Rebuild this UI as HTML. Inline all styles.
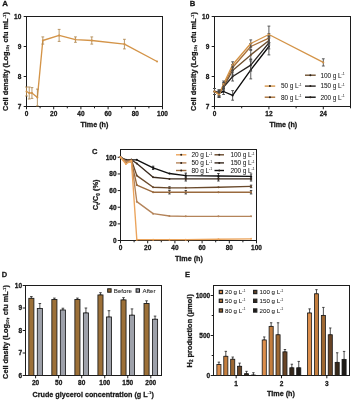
<!DOCTYPE html>
<html><head><meta charset="utf-8"><style>
html,body{margin:0;padding:0;background:#fff;width:352px;height:400px;overflow:hidden}
svg{display:block;font-family:"Liberation Sans", sans-serif;filter:blur(0.22px)}
text{stroke:#111;stroke-width:0.26px}
text[font-weight=normal]{stroke:#000;stroke-width:0.05px}
</style></head><body>
<svg width="352" height="400" viewBox="0 0 352 400">
<rect width="352" height="400" fill="#fff"/>
<text x="5.00" y="5.90" font-size="7.9" text-anchor="middle" font-weight="bold" fill="#1a1a1a" >A</text>
<rect x="26.50" y="16.50" width="136.00" height="90.00" fill="none" stroke="#1c1c1c" stroke-width="1.0"/>
<line x1="23.70" y1="106.50" x2="26.50" y2="106.50" stroke="#1c1c1c" stroke-width="1.0" />
<text x="21.30" y="108.84" font-size="6.5" text-anchor="end" font-weight="bold" fill="#1a1a1a" >7</text>
<line x1="23.70" y1="76.50" x2="26.50" y2="76.50" stroke="#1c1c1c" stroke-width="1.0" />
<text x="21.30" y="78.84" font-size="6.5" text-anchor="end" font-weight="bold" fill="#1a1a1a" >8</text>
<line x1="23.70" y1="46.50" x2="26.50" y2="46.50" stroke="#1c1c1c" stroke-width="1.0" />
<text x="21.30" y="48.84" font-size="6.5" text-anchor="end" font-weight="bold" fill="#1a1a1a" >9</text>
<line x1="23.70" y1="16.50" x2="26.50" y2="16.50" stroke="#1c1c1c" stroke-width="1.0" />
<text x="21.30" y="18.84" font-size="6.5" text-anchor="end" font-weight="bold" fill="#1a1a1a" >10</text>
<line x1="26.50" y1="106.50" x2="26.50" y2="109.30" stroke="#1c1c1c" stroke-width="1.0" />
<text x="26.50" y="116.38" font-size="6.5" text-anchor="middle" font-weight="bold" fill="#1a1a1a" >0</text>
<line x1="53.70" y1="106.50" x2="53.70" y2="109.30" stroke="#1c1c1c" stroke-width="1.0" />
<text x="53.70" y="116.38" font-size="6.5" text-anchor="middle" font-weight="bold" fill="#1a1a1a" >20</text>
<line x1="80.90" y1="106.50" x2="80.90" y2="109.30" stroke="#1c1c1c" stroke-width="1.0" />
<text x="80.90" y="116.38" font-size="6.5" text-anchor="middle" font-weight="bold" fill="#1a1a1a" >40</text>
<line x1="108.10" y1="106.50" x2="108.10" y2="109.30" stroke="#1c1c1c" stroke-width="1.0" />
<text x="108.10" y="116.38" font-size="6.5" text-anchor="middle" font-weight="bold" fill="#1a1a1a" >60</text>
<line x1="135.30" y1="106.50" x2="135.30" y2="109.30" stroke="#1c1c1c" stroke-width="1.0" />
<text x="135.30" y="116.38" font-size="6.5" text-anchor="middle" font-weight="bold" fill="#1a1a1a" >80</text>
<line x1="162.50" y1="106.50" x2="162.50" y2="109.30" stroke="#1c1c1c" stroke-width="1.0" />
<text x="162.50" y="116.38" font-size="6.5" text-anchor="middle" font-weight="bold" fill="#1a1a1a" >100</text>
<line x1="40.10" y1="106.50" x2="40.10" y2="108.30" stroke="#1c1c1c" stroke-width="1.0" />
<line x1="67.30" y1="106.50" x2="67.30" y2="108.30" stroke="#1c1c1c" stroke-width="1.0" />
<line x1="94.50" y1="106.50" x2="94.50" y2="108.30" stroke="#1c1c1c" stroke-width="1.0" />
<line x1="121.70" y1="106.50" x2="121.70" y2="108.30" stroke="#1c1c1c" stroke-width="1.0" />
<line x1="148.90" y1="106.50" x2="148.90" y2="108.30" stroke="#1c1c1c" stroke-width="1.0" />
<text x="94.50" y="127.30" font-size="7.2" text-anchor="middle" font-weight="bold" fill="#1a1a1a" >Time (h)</text>
<text transform="translate(7.9,61.5) rotate(-90)" font-size="7.38" font-weight="bold" text-anchor="middle" fill="#1a1a1a">Cell density (Log<tspan font-size="4.3" dy="1.3" style="stroke-width:0.15px">10</tspan><tspan dy="-1.3">, cfu mL</tspan><tspan font-size="4.3" dy="-2.2" style="stroke-width:0.15px">-1</tspan><tspan dy="2.2">)</tspan></text>
<polyline points="26.50,91.50 29.22,93.00 31.94,93.00 37.38,97.50 42.82,40.50 59.14,35.40 75.46,39.60 91.78,40.50 124.42,44.10 157.06,61.50" fill="none" stroke="#d49448" stroke-width="1.35" stroke-linejoin="round"/>
<line x1="26.50" y1="87.00" x2="26.50" y2="96.00" stroke="#b08850" stroke-width="0.85" />
<line x1="25.10" y1="87.00" x2="27.90" y2="87.00" stroke="#b08850" stroke-width="0.85" />
<line x1="25.10" y1="96.00" x2="27.90" y2="96.00" stroke="#b08850" stroke-width="0.85" />
<circle cx="26.50" cy="91.50" r="1.0" fill="#d49448"/>
<line x1="29.22" y1="87.00" x2="29.22" y2="99.00" stroke="#b08850" stroke-width="0.85" />
<line x1="27.82" y1="87.00" x2="30.62" y2="87.00" stroke="#b08850" stroke-width="0.85" />
<line x1="27.82" y1="99.00" x2="30.62" y2="99.00" stroke="#b08850" stroke-width="0.85" />
<circle cx="29.22" cy="93.00" r="1.0" fill="#d49448"/>
<line x1="31.94" y1="87.60" x2="31.94" y2="98.40" stroke="#b08850" stroke-width="0.85" />
<line x1="30.54" y1="87.60" x2="33.34" y2="87.60" stroke="#b08850" stroke-width="0.85" />
<line x1="30.54" y1="98.40" x2="33.34" y2="98.40" stroke="#b08850" stroke-width="0.85" />
<circle cx="31.94" cy="93.00" r="1.0" fill="#d49448"/>
<line x1="37.38" y1="89.10" x2="37.38" y2="105.90" stroke="#b08850" stroke-width="0.85" />
<line x1="35.98" y1="89.10" x2="38.78" y2="89.10" stroke="#b08850" stroke-width="0.85" />
<line x1="35.98" y1="105.90" x2="38.78" y2="105.90" stroke="#b08850" stroke-width="0.85" />
<circle cx="37.38" cy="97.50" r="1.0" fill="#d49448"/>
<line x1="42.82" y1="36.90" x2="42.82" y2="44.10" stroke="#b08850" stroke-width="0.85" />
<line x1="41.42" y1="36.90" x2="44.22" y2="36.90" stroke="#b08850" stroke-width="0.85" />
<line x1="41.42" y1="44.10" x2="44.22" y2="44.10" stroke="#b08850" stroke-width="0.85" />
<circle cx="42.82" cy="40.50" r="1.0" fill="#d49448"/>
<line x1="59.14" y1="29.40" x2="59.14" y2="41.40" stroke="#b08850" stroke-width="0.85" />
<line x1="57.74" y1="29.40" x2="60.54" y2="29.40" stroke="#b08850" stroke-width="0.85" />
<line x1="57.74" y1="41.40" x2="60.54" y2="41.40" stroke="#b08850" stroke-width="0.85" />
<circle cx="59.14" cy="35.40" r="1.0" fill="#d49448"/>
<line x1="75.46" y1="36.90" x2="75.46" y2="42.30" stroke="#b08850" stroke-width="0.85" />
<line x1="74.06" y1="36.90" x2="76.86" y2="36.90" stroke="#b08850" stroke-width="0.85" />
<line x1="74.06" y1="42.30" x2="76.86" y2="42.30" stroke="#b08850" stroke-width="0.85" />
<circle cx="75.46" cy="39.60" r="1.0" fill="#d49448"/>
<line x1="91.78" y1="36.90" x2="91.78" y2="44.10" stroke="#b08850" stroke-width="0.85" />
<line x1="90.38" y1="36.90" x2="93.18" y2="36.90" stroke="#b08850" stroke-width="0.85" />
<line x1="90.38" y1="44.10" x2="93.18" y2="44.10" stroke="#b08850" stroke-width="0.85" />
<circle cx="91.78" cy="40.50" r="1.0" fill="#d49448"/>
<line x1="124.42" y1="39.30" x2="124.42" y2="48.90" stroke="#b08850" stroke-width="0.85" />
<line x1="123.02" y1="39.30" x2="125.82" y2="39.30" stroke="#b08850" stroke-width="0.85" />
<line x1="123.02" y1="48.90" x2="125.82" y2="48.90" stroke="#b08850" stroke-width="0.85" />
<circle cx="124.42" cy="44.10" r="1.0" fill="#d49448"/>
<circle cx="157.06" cy="61.50" r="1.0" fill="#d49448"/>
<text x="192.50" y="5.60" font-size="7.7" text-anchor="middle" font-weight="bold" fill="#1a1a1a" >B</text>
<rect x="214.50" y="16.50" width="136.00" height="90.00" fill="none" stroke="#1c1c1c" stroke-width="1.0"/>
<line x1="211.70" y1="106.50" x2="214.50" y2="106.50" stroke="#1c1c1c" stroke-width="1.0" />
<text x="209.30" y="108.84" font-size="6.5" text-anchor="end" font-weight="bold" fill="#1a1a1a" >7</text>
<line x1="211.70" y1="76.50" x2="214.50" y2="76.50" stroke="#1c1c1c" stroke-width="1.0" />
<text x="209.30" y="78.84" font-size="6.5" text-anchor="end" font-weight="bold" fill="#1a1a1a" >8</text>
<line x1="211.70" y1="46.50" x2="214.50" y2="46.50" stroke="#1c1c1c" stroke-width="1.0" />
<text x="209.30" y="48.84" font-size="6.5" text-anchor="end" font-weight="bold" fill="#1a1a1a" >9</text>
<line x1="211.70" y1="16.50" x2="214.50" y2="16.50" stroke="#1c1c1c" stroke-width="1.0" />
<text x="209.30" y="18.84" font-size="6.5" text-anchor="end" font-weight="bold" fill="#1a1a1a" >10</text>
<line x1="214.50" y1="106.50" x2="214.50" y2="109.30" stroke="#1c1c1c" stroke-width="1.0" />
<text x="214.50" y="116.38" font-size="6.5" text-anchor="middle" font-weight="bold" fill="#1a1a1a" >0</text>
<line x1="268.90" y1="106.50" x2="268.90" y2="109.30" stroke="#1c1c1c" stroke-width="1.0" />
<text x="268.90" y="116.38" font-size="6.5" text-anchor="middle" font-weight="bold" fill="#1a1a1a" >12</text>
<line x1="323.30" y1="106.50" x2="323.30" y2="109.30" stroke="#1c1c1c" stroke-width="1.0" />
<text x="323.30" y="116.38" font-size="6.5" text-anchor="middle" font-weight="bold" fill="#1a1a1a" >24</text>
<line x1="241.70" y1="106.50" x2="241.70" y2="108.30" stroke="#1c1c1c" stroke-width="1.0" />
<line x1="296.10" y1="106.50" x2="296.10" y2="108.30" stroke="#1c1c1c" stroke-width="1.0" />
<line x1="350.50" y1="106.50" x2="350.50" y2="108.30" stroke="#1c1c1c" stroke-width="1.0" />
<text x="283.30" y="127.30" font-size="7.2" text-anchor="middle" font-weight="bold" fill="#1a1a1a" >Time (h)</text>
<text transform="translate(195.9,61.5) rotate(-90)" font-size="7.38" font-weight="bold" text-anchor="middle" fill="#1a1a1a">Cell density (Log<tspan font-size="4.3" dy="1.3" style="stroke-width:0.15px">10</tspan><tspan dy="-1.3">, cfu mL</tspan><tspan font-size="4.3" dy="-2.2" style="stroke-width:0.15px">-1</tspan><tspan dy="2.2">)</tspan></text>
<polyline points="214.50,91.50 219.03,93.00 223.57,91.50 232.63,95.40 250.77,69.90 268.90,46.50" fill="none" stroke="#0c0c0c" stroke-width="1.35" stroke-linejoin="round"/>
<polyline points="214.50,91.50 219.03,93.00 223.57,87.00 232.63,76.50 250.77,65.10 268.90,42.90" fill="none" stroke="#262220" stroke-width="1.35" stroke-linejoin="round"/>
<polyline points="214.50,91.50 219.03,93.00 223.57,87.00 232.63,70.50 250.77,54.90 268.90,40.50" fill="none" stroke="#6e5030" stroke-width="1.35" stroke-linejoin="round"/>
<polyline points="214.50,91.50 219.03,94.50 223.57,85.50 232.63,67.50 250.77,46.50 268.90,38.10" fill="none" stroke="#a87038" stroke-width="1.35" stroke-linejoin="round"/>
<polyline points="214.50,91.50 219.03,94.50 223.57,84.00 232.63,64.80 250.77,43.50 268.90,34.50 323.30,62.40" fill="none" stroke="#d49448" stroke-width="1.35" stroke-linejoin="round"/>
<line x1="214.50" y1="88.50" x2="214.50" y2="94.50" stroke="#4a4a4a" stroke-width="0.9" />
<line x1="213.10" y1="88.50" x2="215.90" y2="88.50" stroke="#4a4a4a" stroke-width="0.9" />
<line x1="213.10" y1="94.50" x2="215.90" y2="94.50" stroke="#4a4a4a" stroke-width="0.9" />
<circle cx="214.50" cy="91.50" r="1.0" fill="#0c0c0c"/>
<line x1="219.03" y1="90.00" x2="219.03" y2="96.00" stroke="#4a4a4a" stroke-width="0.9" />
<line x1="217.63" y1="90.00" x2="220.43" y2="90.00" stroke="#4a4a4a" stroke-width="0.9" />
<line x1="217.63" y1="96.00" x2="220.43" y2="96.00" stroke="#4a4a4a" stroke-width="0.9" />
<circle cx="219.03" cy="93.00" r="1.0" fill="#0c0c0c"/>
<line x1="223.57" y1="88.50" x2="223.57" y2="94.50" stroke="#4a4a4a" stroke-width="0.9" />
<line x1="222.17" y1="88.50" x2="224.97" y2="88.50" stroke="#4a4a4a" stroke-width="0.9" />
<line x1="222.17" y1="94.50" x2="224.97" y2="94.50" stroke="#4a4a4a" stroke-width="0.9" />
<circle cx="223.57" cy="91.50" r="1.0" fill="#0c0c0c"/>
<line x1="232.63" y1="90.60" x2="232.63" y2="100.20" stroke="#4a4a4a" stroke-width="0.9" />
<line x1="231.23" y1="90.60" x2="234.03" y2="90.60" stroke="#4a4a4a" stroke-width="0.9" />
<line x1="231.23" y1="100.20" x2="234.03" y2="100.20" stroke="#4a4a4a" stroke-width="0.9" />
<circle cx="232.63" cy="95.40" r="1.0" fill="#0c0c0c"/>
<line x1="250.77" y1="60.90" x2="250.77" y2="78.90" stroke="#4a4a4a" stroke-width="0.9" />
<line x1="249.37" y1="60.90" x2="252.17" y2="60.90" stroke="#4a4a4a" stroke-width="0.9" />
<line x1="249.37" y1="78.90" x2="252.17" y2="78.90" stroke="#4a4a4a" stroke-width="0.9" />
<circle cx="250.77" cy="69.90" r="1.0" fill="#0c0c0c"/>
<line x1="268.90" y1="38.10" x2="268.90" y2="54.90" stroke="#4a4a4a" stroke-width="0.9" />
<line x1="267.50" y1="38.10" x2="270.30" y2="38.10" stroke="#4a4a4a" stroke-width="0.9" />
<line x1="267.50" y1="54.90" x2="270.30" y2="54.90" stroke="#4a4a4a" stroke-width="0.9" />
<circle cx="268.90" cy="46.50" r="1.0" fill="#0c0c0c"/>
<line x1="214.50" y1="88.50" x2="214.50" y2="94.50" stroke="#4a4a4a" stroke-width="0.9" />
<line x1="213.10" y1="88.50" x2="215.90" y2="88.50" stroke="#4a4a4a" stroke-width="0.9" />
<line x1="213.10" y1="94.50" x2="215.90" y2="94.50" stroke="#4a4a4a" stroke-width="0.9" />
<circle cx="214.50" cy="91.50" r="1.0" fill="#262220"/>
<line x1="219.03" y1="90.00" x2="219.03" y2="96.00" stroke="#4a4a4a" stroke-width="0.9" />
<line x1="217.63" y1="90.00" x2="220.43" y2="90.00" stroke="#4a4a4a" stroke-width="0.9" />
<line x1="217.63" y1="96.00" x2="220.43" y2="96.00" stroke="#4a4a4a" stroke-width="0.9" />
<circle cx="219.03" cy="93.00" r="1.0" fill="#262220"/>
<line x1="223.57" y1="84.00" x2="223.57" y2="90.00" stroke="#4a4a4a" stroke-width="0.9" />
<line x1="222.17" y1="84.00" x2="224.97" y2="84.00" stroke="#4a4a4a" stroke-width="0.9" />
<line x1="222.17" y1="90.00" x2="224.97" y2="90.00" stroke="#4a4a4a" stroke-width="0.9" />
<circle cx="223.57" cy="87.00" r="1.0" fill="#262220"/>
<line x1="232.63" y1="72.00" x2="232.63" y2="81.00" stroke="#4a4a4a" stroke-width="0.9" />
<line x1="231.23" y1="72.00" x2="234.03" y2="72.00" stroke="#4a4a4a" stroke-width="0.9" />
<line x1="231.23" y1="81.00" x2="234.03" y2="81.00" stroke="#4a4a4a" stroke-width="0.9" />
<circle cx="232.63" cy="76.50" r="1.0" fill="#262220"/>
<line x1="250.77" y1="59.10" x2="250.77" y2="71.10" stroke="#4a4a4a" stroke-width="0.9" />
<line x1="249.37" y1="59.10" x2="252.17" y2="59.10" stroke="#4a4a4a" stroke-width="0.9" />
<line x1="249.37" y1="71.10" x2="252.17" y2="71.10" stroke="#4a4a4a" stroke-width="0.9" />
<circle cx="250.77" cy="65.10" r="1.0" fill="#262220"/>
<line x1="268.90" y1="36.90" x2="268.90" y2="48.90" stroke="#4a4a4a" stroke-width="0.9" />
<line x1="267.50" y1="36.90" x2="270.30" y2="36.90" stroke="#4a4a4a" stroke-width="0.9" />
<line x1="267.50" y1="48.90" x2="270.30" y2="48.90" stroke="#4a4a4a" stroke-width="0.9" />
<circle cx="268.90" cy="42.90" r="1.0" fill="#262220"/>
<line x1="214.50" y1="88.50" x2="214.50" y2="94.50" stroke="#4a4a4a" stroke-width="0.9" />
<line x1="213.10" y1="88.50" x2="215.90" y2="88.50" stroke="#4a4a4a" stroke-width="0.9" />
<line x1="213.10" y1="94.50" x2="215.90" y2="94.50" stroke="#4a4a4a" stroke-width="0.9" />
<circle cx="214.50" cy="91.50" r="1.0" fill="#6e5030"/>
<line x1="219.03" y1="90.00" x2="219.03" y2="96.00" stroke="#4a4a4a" stroke-width="0.9" />
<line x1="217.63" y1="90.00" x2="220.43" y2="90.00" stroke="#4a4a4a" stroke-width="0.9" />
<line x1="217.63" y1="96.00" x2="220.43" y2="96.00" stroke="#4a4a4a" stroke-width="0.9" />
<circle cx="219.03" cy="93.00" r="1.0" fill="#6e5030"/>
<line x1="223.57" y1="84.00" x2="223.57" y2="90.00" stroke="#4a4a4a" stroke-width="0.9" />
<line x1="222.17" y1="84.00" x2="224.97" y2="84.00" stroke="#4a4a4a" stroke-width="0.9" />
<line x1="222.17" y1="90.00" x2="224.97" y2="90.00" stroke="#4a4a4a" stroke-width="0.9" />
<circle cx="223.57" cy="87.00" r="1.0" fill="#6e5030"/>
<line x1="232.63" y1="66.00" x2="232.63" y2="75.00" stroke="#4a4a4a" stroke-width="0.9" />
<line x1="231.23" y1="66.00" x2="234.03" y2="66.00" stroke="#4a4a4a" stroke-width="0.9" />
<line x1="231.23" y1="75.00" x2="234.03" y2="75.00" stroke="#4a4a4a" stroke-width="0.9" />
<circle cx="232.63" cy="70.50" r="1.0" fill="#6e5030"/>
<line x1="250.77" y1="50.40" x2="250.77" y2="59.40" stroke="#4a4a4a" stroke-width="0.9" />
<line x1="249.37" y1="50.40" x2="252.17" y2="50.40" stroke="#4a4a4a" stroke-width="0.9" />
<line x1="249.37" y1="59.40" x2="252.17" y2="59.40" stroke="#4a4a4a" stroke-width="0.9" />
<circle cx="250.77" cy="54.90" r="1.0" fill="#6e5030"/>
<line x1="268.90" y1="36.00" x2="268.90" y2="45.00" stroke="#4a4a4a" stroke-width="0.9" />
<line x1="267.50" y1="36.00" x2="270.30" y2="36.00" stroke="#4a4a4a" stroke-width="0.9" />
<line x1="267.50" y1="45.00" x2="270.30" y2="45.00" stroke="#4a4a4a" stroke-width="0.9" />
<circle cx="268.90" cy="40.50" r="1.0" fill="#6e5030"/>
<line x1="214.50" y1="88.50" x2="214.50" y2="94.50" stroke="#4a4a4a" stroke-width="0.9" />
<line x1="213.10" y1="88.50" x2="215.90" y2="88.50" stroke="#4a4a4a" stroke-width="0.9" />
<line x1="213.10" y1="94.50" x2="215.90" y2="94.50" stroke="#4a4a4a" stroke-width="0.9" />
<circle cx="214.50" cy="91.50" r="1.0" fill="#a87038"/>
<line x1="219.03" y1="91.50" x2="219.03" y2="97.50" stroke="#4a4a4a" stroke-width="0.9" />
<line x1="217.63" y1="91.50" x2="220.43" y2="91.50" stroke="#4a4a4a" stroke-width="0.9" />
<line x1="217.63" y1="97.50" x2="220.43" y2="97.50" stroke="#4a4a4a" stroke-width="0.9" />
<circle cx="219.03" cy="94.50" r="1.0" fill="#a87038"/>
<line x1="223.57" y1="82.50" x2="223.57" y2="88.50" stroke="#4a4a4a" stroke-width="0.9" />
<line x1="222.17" y1="82.50" x2="224.97" y2="82.50" stroke="#4a4a4a" stroke-width="0.9" />
<line x1="222.17" y1="88.50" x2="224.97" y2="88.50" stroke="#4a4a4a" stroke-width="0.9" />
<circle cx="223.57" cy="85.50" r="1.0" fill="#a87038"/>
<line x1="232.63" y1="64.50" x2="232.63" y2="70.50" stroke="#4a4a4a" stroke-width="0.9" />
<line x1="231.23" y1="64.50" x2="234.03" y2="64.50" stroke="#4a4a4a" stroke-width="0.9" />
<line x1="231.23" y1="70.50" x2="234.03" y2="70.50" stroke="#4a4a4a" stroke-width="0.9" />
<circle cx="232.63" cy="67.50" r="1.0" fill="#a87038"/>
<line x1="250.77" y1="43.50" x2="250.77" y2="49.50" stroke="#4a4a4a" stroke-width="0.9" />
<line x1="249.37" y1="43.50" x2="252.17" y2="43.50" stroke="#4a4a4a" stroke-width="0.9" />
<line x1="249.37" y1="49.50" x2="252.17" y2="49.50" stroke="#4a4a4a" stroke-width="0.9" />
<circle cx="250.77" cy="46.50" r="1.0" fill="#a87038"/>
<line x1="268.90" y1="33.60" x2="268.90" y2="42.60" stroke="#4a4a4a" stroke-width="0.9" />
<line x1="267.50" y1="33.60" x2="270.30" y2="33.60" stroke="#4a4a4a" stroke-width="0.9" />
<line x1="267.50" y1="42.60" x2="270.30" y2="42.60" stroke="#4a4a4a" stroke-width="0.9" />
<circle cx="268.90" cy="38.10" r="1.0" fill="#a87038"/>
<line x1="214.50" y1="88.50" x2="214.50" y2="94.50" stroke="#4a4a4a" stroke-width="0.9" />
<line x1="213.10" y1="88.50" x2="215.90" y2="88.50" stroke="#4a4a4a" stroke-width="0.9" />
<line x1="213.10" y1="94.50" x2="215.90" y2="94.50" stroke="#4a4a4a" stroke-width="0.9" />
<circle cx="214.50" cy="91.50" r="1.0" fill="#d49448"/>
<line x1="219.03" y1="91.50" x2="219.03" y2="97.50" stroke="#4a4a4a" stroke-width="0.9" />
<line x1="217.63" y1="91.50" x2="220.43" y2="91.50" stroke="#4a4a4a" stroke-width="0.9" />
<line x1="217.63" y1="97.50" x2="220.43" y2="97.50" stroke="#4a4a4a" stroke-width="0.9" />
<circle cx="219.03" cy="94.50" r="1.0" fill="#d49448"/>
<line x1="223.57" y1="81.00" x2="223.57" y2="87.00" stroke="#4a4a4a" stroke-width="0.9" />
<line x1="222.17" y1="81.00" x2="224.97" y2="81.00" stroke="#4a4a4a" stroke-width="0.9" />
<line x1="222.17" y1="87.00" x2="224.97" y2="87.00" stroke="#4a4a4a" stroke-width="0.9" />
<circle cx="223.57" cy="84.00" r="1.0" fill="#d49448"/>
<line x1="232.63" y1="61.80" x2="232.63" y2="67.80" stroke="#4a4a4a" stroke-width="0.9" />
<line x1="231.23" y1="61.80" x2="234.03" y2="61.80" stroke="#4a4a4a" stroke-width="0.9" />
<line x1="231.23" y1="67.80" x2="234.03" y2="67.80" stroke="#4a4a4a" stroke-width="0.9" />
<circle cx="232.63" cy="64.80" r="1.0" fill="#d49448"/>
<line x1="250.77" y1="39.90" x2="250.77" y2="47.10" stroke="#4a4a4a" stroke-width="0.9" />
<line x1="249.37" y1="39.90" x2="252.17" y2="39.90" stroke="#4a4a4a" stroke-width="0.9" />
<line x1="249.37" y1="47.10" x2="252.17" y2="47.10" stroke="#4a4a4a" stroke-width="0.9" />
<circle cx="250.77" cy="43.50" r="1.0" fill="#d49448"/>
<line x1="268.90" y1="26.10" x2="268.90" y2="42.90" stroke="#4a4a4a" stroke-width="0.9" />
<line x1="267.50" y1="26.10" x2="270.30" y2="26.10" stroke="#4a4a4a" stroke-width="0.9" />
<line x1="267.50" y1="42.90" x2="270.30" y2="42.90" stroke="#4a4a4a" stroke-width="0.9" />
<circle cx="268.90" cy="34.50" r="1.0" fill="#d49448"/>
<line x1="323.30" y1="58.80" x2="323.30" y2="66.00" stroke="#4a4a4a" stroke-width="0.9" />
<line x1="321.90" y1="58.80" x2="324.70" y2="58.80" stroke="#4a4a4a" stroke-width="0.9" />
<line x1="321.90" y1="66.00" x2="324.70" y2="66.00" stroke="#4a4a4a" stroke-width="0.9" />
<circle cx="323.30" cy="62.40" r="1.0" fill="#d49448"/>
<line x1="305.00" y1="75.20" x2="315.70" y2="75.20" stroke="#6e5030" stroke-width="1.4" />
<circle cx="310.35" cy="75.20" r="1.0" fill="#2a2018"/>
<text x="320.60" y="77.54" font-size="6.5" font-weight="normal" fill="#1a1a1a" letter-spacing="-0.1">100 g L<tspan font-size="3.6" dy="-2.4" style="stroke:none">-1</tspan></text>
<line x1="305.00" y1="86.10" x2="315.70" y2="86.10" stroke="#262220" stroke-width="1.4" />
<circle cx="310.35" cy="86.10" r="1.0" fill="#2a2018"/>
<text x="320.60" y="88.44" font-size="6.5" font-weight="normal" fill="#1a1a1a" letter-spacing="-0.1">150 g L<tspan font-size="3.6" dy="-2.4" style="stroke:none">-1</tspan></text>
<line x1="305.00" y1="97.20" x2="315.70" y2="97.20" stroke="#0c0c0c" stroke-width="1.4" />
<circle cx="310.35" cy="97.20" r="1.0" fill="#2a2018"/>
<text x="320.60" y="99.54" font-size="6.5" font-weight="normal" fill="#1a1a1a" letter-spacing="-0.1">200 g L<tspan font-size="3.6" dy="-2.4" style="stroke:none">-1</tspan></text>
<line x1="264.70" y1="86.10" x2="275.20" y2="86.10" stroke="#d49448" stroke-width="1.4" />
<circle cx="269.95" cy="86.10" r="1.0" fill="#2a2018"/>
<text x="281.00" y="88.44" font-size="6.5" font-weight="normal" fill="#1a1a1a" letter-spacing="-0.1">50 g L<tspan font-size="3.6" dy="-2.4" style="stroke:none">-1</tspan></text>
<line x1="264.70" y1="97.20" x2="275.20" y2="97.20" stroke="#a87038" stroke-width="1.4" />
<circle cx="269.95" cy="97.20" r="1.0" fill="#2a2018"/>
<text x="281.00" y="99.54" font-size="6.5" font-weight="normal" fill="#1a1a1a" letter-spacing="-0.1">80 g L<tspan font-size="3.6" dy="-2.4" style="stroke:none">-1</tspan></text>
<text x="94.60" y="153.90" font-size="7.5" text-anchor="middle" font-weight="bold" fill="#1a1a1a" >C</text>
<rect x="120.50" y="149.50" width="136.00" height="91.00" fill="none" stroke="#1c1c1c" stroke-width="1.0"/>
<line x1="117.70" y1="240.50" x2="120.50" y2="240.50" stroke="#1c1c1c" stroke-width="1.0" />
<text x="116.50" y="242.84" font-size="6.5" text-anchor="end" font-weight="bold" fill="#1a1a1a" >0</text>
<line x1="117.70" y1="223.86" x2="120.50" y2="223.86" stroke="#1c1c1c" stroke-width="1.0" />
<text x="116.50" y="226.20" font-size="6.5" text-anchor="end" font-weight="bold" fill="#1a1a1a" >20</text>
<line x1="117.70" y1="207.22" x2="120.50" y2="207.22" stroke="#1c1c1c" stroke-width="1.0" />
<text x="116.50" y="209.56" font-size="6.5" text-anchor="end" font-weight="bold" fill="#1a1a1a" >40</text>
<line x1="117.70" y1="190.58" x2="120.50" y2="190.58" stroke="#1c1c1c" stroke-width="1.0" />
<text x="116.50" y="192.92" font-size="6.5" text-anchor="end" font-weight="bold" fill="#1a1a1a" >60</text>
<line x1="117.70" y1="173.94" x2="120.50" y2="173.94" stroke="#1c1c1c" stroke-width="1.0" />
<text x="116.50" y="176.28" font-size="6.5" text-anchor="end" font-weight="bold" fill="#1a1a1a" >80</text>
<line x1="117.70" y1="157.30" x2="120.50" y2="157.30" stroke="#1c1c1c" stroke-width="1.0" />
<text x="116.50" y="159.64" font-size="6.5" text-anchor="end" font-weight="bold" fill="#1a1a1a" >100</text>
<line x1="120.50" y1="240.50" x2="120.50" y2="243.30" stroke="#1c1c1c" stroke-width="1.0" />
<text x="120.50" y="250.38" font-size="6.5" text-anchor="middle" font-weight="bold" fill="#1a1a1a" >0</text>
<line x1="147.70" y1="240.50" x2="147.70" y2="243.30" stroke="#1c1c1c" stroke-width="1.0" />
<text x="147.70" y="250.38" font-size="6.5" text-anchor="middle" font-weight="bold" fill="#1a1a1a" >20</text>
<line x1="174.90" y1="240.50" x2="174.90" y2="243.30" stroke="#1c1c1c" stroke-width="1.0" />
<text x="174.90" y="250.38" font-size="6.5" text-anchor="middle" font-weight="bold" fill="#1a1a1a" >40</text>
<line x1="202.10" y1="240.50" x2="202.10" y2="243.30" stroke="#1c1c1c" stroke-width="1.0" />
<text x="202.10" y="250.38" font-size="6.5" text-anchor="middle" font-weight="bold" fill="#1a1a1a" >60</text>
<line x1="229.30" y1="240.50" x2="229.30" y2="243.30" stroke="#1c1c1c" stroke-width="1.0" />
<text x="229.30" y="250.38" font-size="6.5" text-anchor="middle" font-weight="bold" fill="#1a1a1a" >80</text>
<line x1="256.50" y1="240.50" x2="256.50" y2="243.30" stroke="#1c1c1c" stroke-width="1.0" />
<text x="256.50" y="250.38" font-size="6.5" text-anchor="middle" font-weight="bold" fill="#1a1a1a" >100</text>
<line x1="134.10" y1="240.50" x2="134.10" y2="242.30" stroke="#1c1c1c" stroke-width="1.0" />
<line x1="161.30" y1="240.50" x2="161.30" y2="242.30" stroke="#1c1c1c" stroke-width="1.0" />
<line x1="188.50" y1="240.50" x2="188.50" y2="242.30" stroke="#1c1c1c" stroke-width="1.0" />
<line x1="215.70" y1="240.50" x2="215.70" y2="242.30" stroke="#1c1c1c" stroke-width="1.0" />
<line x1="242.90" y1="240.50" x2="242.90" y2="242.30" stroke="#1c1c1c" stroke-width="1.0" />
<text x="189.00" y="261.00" font-size="7.2" text-anchor="middle" font-weight="bold" fill="#1a1a1a" >Time (h)</text>
<text transform="translate(98.0,194.8) rotate(-90)" font-size="7.5" font-weight="bold" text-anchor="middle" fill="#1a1a1a">C<tspan font-size="4.5" dy="1.5">t</tspan><tspan dy="-1.5">/C</tspan><tspan font-size="4.5" dy="1.5">0</tspan><tspan dy="-1.5"> (%)</tspan></text>
<line x1="185.78" y1="173.11" x2="185.78" y2="178.10" stroke="#2a2a2a" stroke-width="0.9" />
<line x1="184.58" y1="173.11" x2="186.98" y2="173.11" stroke="#2a2a2a" stroke-width="0.9" />
<line x1="184.58" y1="178.10" x2="186.98" y2="178.10" stroke="#2a2a2a" stroke-width="0.9" />
<line x1="218.42" y1="173.52" x2="218.42" y2="178.52" stroke="#2a2a2a" stroke-width="0.9" />
<line x1="217.22" y1="173.52" x2="219.62" y2="173.52" stroke="#2a2a2a" stroke-width="0.9" />
<line x1="217.22" y1="178.52" x2="219.62" y2="178.52" stroke="#2a2a2a" stroke-width="0.9" />
<line x1="251.06" y1="173.94" x2="251.06" y2="178.93" stroke="#2a2a2a" stroke-width="0.9" />
<line x1="249.86" y1="173.94" x2="252.26" y2="173.94" stroke="#2a2a2a" stroke-width="0.9" />
<line x1="249.86" y1="178.93" x2="252.26" y2="178.93" stroke="#2a2a2a" stroke-width="0.9" />
<line x1="153.14" y1="166.20" x2="153.14" y2="169.53" stroke="#2a2a2a" stroke-width="0.9" />
<line x1="151.94" y1="166.20" x2="154.34" y2="166.20" stroke="#2a2a2a" stroke-width="0.9" />
<line x1="151.94" y1="169.53" x2="154.34" y2="169.53" stroke="#2a2a2a" stroke-width="0.9" />
<line x1="185.78" y1="176.85" x2="185.78" y2="181.01" stroke="#2a2a2a" stroke-width="0.9" />
<line x1="184.58" y1="176.85" x2="186.98" y2="176.85" stroke="#2a2a2a" stroke-width="0.9" />
<line x1="184.58" y1="181.01" x2="186.98" y2="181.01" stroke="#2a2a2a" stroke-width="0.9" />
<line x1="218.42" y1="176.85" x2="218.42" y2="181.01" stroke="#2a2a2a" stroke-width="0.9" />
<line x1="217.22" y1="176.85" x2="219.62" y2="176.85" stroke="#2a2a2a" stroke-width="0.9" />
<line x1="217.22" y1="181.01" x2="219.62" y2="181.01" stroke="#2a2a2a" stroke-width="0.9" />
<line x1="251.06" y1="176.85" x2="251.06" y2="181.01" stroke="#2a2a2a" stroke-width="0.9" />
<line x1="249.86" y1="176.85" x2="252.26" y2="176.85" stroke="#2a2a2a" stroke-width="0.9" />
<line x1="249.86" y1="181.01" x2="252.26" y2="181.01" stroke="#2a2a2a" stroke-width="0.9" />
<line x1="169.46" y1="190.58" x2="169.46" y2="193.91" stroke="#2a2a2a" stroke-width="0.9" />
<line x1="168.26" y1="190.58" x2="170.66" y2="190.58" stroke="#2a2a2a" stroke-width="0.9" />
<line x1="168.26" y1="193.91" x2="170.66" y2="193.91" stroke="#2a2a2a" stroke-width="0.9" />
<line x1="185.78" y1="190.58" x2="185.78" y2="193.91" stroke="#2a2a2a" stroke-width="0.9" />
<line x1="184.58" y1="190.58" x2="186.98" y2="190.58" stroke="#2a2a2a" stroke-width="0.9" />
<line x1="184.58" y1="193.91" x2="186.98" y2="193.91" stroke="#2a2a2a" stroke-width="0.9" />
<line x1="251.06" y1="190.58" x2="251.06" y2="193.91" stroke="#2a2a2a" stroke-width="0.9" />
<line x1="249.86" y1="190.58" x2="252.26" y2="190.58" stroke="#2a2a2a" stroke-width="0.9" />
<line x1="249.86" y1="193.91" x2="252.26" y2="193.91" stroke="#2a2a2a" stroke-width="0.9" />
<line x1="169.46" y1="186.84" x2="169.46" y2="188.83" stroke="#2a2a2a" stroke-width="0.9" />
<line x1="168.26" y1="186.84" x2="170.66" y2="186.84" stroke="#2a2a2a" stroke-width="0.9" />
<line x1="168.26" y1="188.83" x2="170.66" y2="188.83" stroke="#2a2a2a" stroke-width="0.9" />
<line x1="251.06" y1="185.17" x2="251.06" y2="187.67" stroke="#2a2a2a" stroke-width="0.9" />
<line x1="249.86" y1="185.17" x2="252.26" y2="185.17" stroke="#2a2a2a" stroke-width="0.9" />
<line x1="249.86" y1="187.67" x2="252.26" y2="187.67" stroke="#2a2a2a" stroke-width="0.9" />
<polyline points="120.50,157.30 125.94,159.80 131.38,159.80 136.82,159.80 153.14,167.87 169.46,173.52 185.78,175.60 218.42,176.02 251.06,176.44" fill="none" stroke="#101010" stroke-width="1.35" stroke-linejoin="round"/>
<circle cx="120.50" cy="157.30" r="1.0" fill="#101010"/>
<circle cx="125.94" cy="159.80" r="1.0" fill="#101010"/>
<circle cx="131.38" cy="159.80" r="1.0" fill="#101010"/>
<circle cx="136.82" cy="159.80" r="1.0" fill="#101010"/>
<circle cx="153.14" cy="167.87" r="1.0" fill="#101010"/>
<circle cx="169.46" cy="173.52" r="1.0" fill="#101010"/>
<circle cx="185.78" cy="175.60" r="1.0" fill="#101010"/>
<circle cx="218.42" cy="176.02" r="1.0" fill="#101010"/>
<circle cx="251.06" cy="176.44" r="1.0" fill="#101010"/>
<polyline points="120.50,157.30 125.94,160.63 131.38,159.80 136.82,163.54 153.14,177.27 169.46,178.93 185.78,178.93 218.42,178.93 251.06,178.93" fill="none" stroke="#3a2a1e" stroke-width="1.35" stroke-linejoin="round"/>
<circle cx="120.50" cy="157.30" r="1.0" fill="#3a2a1e"/>
<circle cx="125.94" cy="160.63" r="1.0" fill="#3a2a1e"/>
<circle cx="131.38" cy="159.80" r="1.0" fill="#3a2a1e"/>
<circle cx="136.82" cy="163.54" r="1.0" fill="#3a2a1e"/>
<circle cx="153.14" cy="177.27" r="1.0" fill="#3a2a1e"/>
<circle cx="169.46" cy="178.93" r="1.0" fill="#3a2a1e"/>
<circle cx="185.78" cy="178.93" r="1.0" fill="#3a2a1e"/>
<circle cx="218.42" cy="178.93" r="1.0" fill="#3a2a1e"/>
<circle cx="251.06" cy="178.93" r="1.0" fill="#3a2a1e"/>
<polyline points="120.50,157.30 125.94,160.63 131.38,159.80 136.82,175.60 153.14,187.25 169.46,187.83 185.78,187.83 218.42,187.25 251.06,186.42" fill="none" stroke="#6a4a2c" stroke-width="1.35" stroke-linejoin="round"/>
<circle cx="120.50" cy="157.30" r="1.0" fill="#6a4a2c"/>
<circle cx="125.94" cy="160.63" r="1.0" fill="#6a4a2c"/>
<circle cx="131.38" cy="159.80" r="1.0" fill="#6a4a2c"/>
<circle cx="136.82" cy="175.60" r="1.0" fill="#6a4a2c"/>
<circle cx="153.14" cy="187.25" r="1.0" fill="#6a4a2c"/>
<circle cx="169.46" cy="187.83" r="1.0" fill="#6a4a2c"/>
<circle cx="185.78" cy="187.83" r="1.0" fill="#6a4a2c"/>
<circle cx="218.42" cy="187.25" r="1.0" fill="#6a4a2c"/>
<circle cx="251.06" cy="186.42" r="1.0" fill="#6a4a2c"/>
<polyline points="120.50,157.30 125.94,162.29 131.38,161.46 136.82,185.01 153.14,192.24 169.46,192.24 185.78,192.24 218.42,192.24 251.06,192.24" fill="none" stroke="#9a6a3e" stroke-width="1.35" stroke-linejoin="round"/>
<circle cx="120.50" cy="157.30" r="1.0" fill="#9a6a3e"/>
<circle cx="125.94" cy="162.29" r="1.0" fill="#9a6a3e"/>
<circle cx="131.38" cy="161.46" r="1.0" fill="#9a6a3e"/>
<circle cx="136.82" cy="185.01" r="1.0" fill="#9a6a3e"/>
<circle cx="153.14" cy="192.24" r="1.0" fill="#9a6a3e"/>
<circle cx="169.46" cy="192.24" r="1.0" fill="#9a6a3e"/>
<circle cx="185.78" cy="192.24" r="1.0" fill="#9a6a3e"/>
<circle cx="218.42" cy="192.24" r="1.0" fill="#9a6a3e"/>
<circle cx="251.06" cy="192.24" r="1.0" fill="#9a6a3e"/>
<polyline points="120.50,157.30 125.94,161.46 131.38,160.63 136.82,201.65 153.14,213.63 169.46,215.96 185.78,216.37 218.42,216.37 251.06,216.37" fill="none" stroke="#b4845a" stroke-width="1.35" stroke-linejoin="round"/>
<circle cx="120.50" cy="157.30" r="1.0" fill="#b4845a"/>
<circle cx="125.94" cy="161.46" r="1.0" fill="#b4845a"/>
<circle cx="131.38" cy="160.63" r="1.0" fill="#b4845a"/>
<circle cx="136.82" cy="201.65" r="1.0" fill="#b4845a"/>
<circle cx="153.14" cy="213.63" r="1.0" fill="#b4845a"/>
<circle cx="169.46" cy="215.96" r="1.0" fill="#b4845a"/>
<circle cx="185.78" cy="216.37" r="1.0" fill="#b4845a"/>
<circle cx="218.42" cy="216.37" r="1.0" fill="#b4845a"/>
<circle cx="251.06" cy="216.37" r="1.0" fill="#b4845a"/>
<polyline points="120.50,157.30 125.94,163.96 131.38,160.63 136.82,239.67 153.14,239.67 169.46,239.67 185.78,239.67 218.42,239.25 251.06,238.84" fill="none" stroke="#eba45c" stroke-width="1.35" stroke-linejoin="round"/>
<circle cx="120.50" cy="157.30" r="1.0" fill="#eba45c"/>
<circle cx="125.94" cy="163.96" r="1.0" fill="#eba45c"/>
<circle cx="131.38" cy="160.63" r="1.0" fill="#eba45c"/>
<circle cx="136.82" cy="239.67" r="1.0" fill="#eba45c"/>
<circle cx="153.14" cy="239.67" r="1.0" fill="#eba45c"/>
<circle cx="169.46" cy="239.67" r="1.0" fill="#eba45c"/>
<circle cx="185.78" cy="239.67" r="1.0" fill="#eba45c"/>
<circle cx="218.42" cy="239.25" r="1.0" fill="#eba45c"/>
<circle cx="251.06" cy="238.84" r="1.0" fill="#eba45c"/>
<line x1="176.00" y1="154.80" x2="186.40" y2="154.80" stroke="#eba45c" stroke-width="1.4" />
<circle cx="181.20" cy="154.80" r="1.0" fill="#2a2018"/>
<text x="191.60" y="157.14" font-size="6.5" font-weight="normal" fill="#1a1a1a" letter-spacing="-0.1">20 g L<tspan font-size="3.6" dy="-2.4" style="stroke:none">-1</tspan></text>
<line x1="176.00" y1="162.90" x2="186.40" y2="162.90" stroke="#b4845a" stroke-width="1.4" />
<circle cx="181.20" cy="162.90" r="1.0" fill="#2a2018"/>
<text x="191.60" y="165.24" font-size="6.5" font-weight="normal" fill="#1a1a1a" letter-spacing="-0.1">50 g L<tspan font-size="3.6" dy="-2.4" style="stroke:none">-1</tspan></text>
<line x1="176.00" y1="170.50" x2="186.40" y2="170.50" stroke="#9a6a3e" stroke-width="1.4" />
<circle cx="181.20" cy="170.50" r="1.0" fill="#2a2018"/>
<text x="191.60" y="172.84" font-size="6.5" font-weight="normal" fill="#1a1a1a" letter-spacing="-0.1">80 g L<tspan font-size="3.6" dy="-2.4" style="stroke:none">-1</tspan></text>
<line x1="214.50" y1="154.80" x2="224.00" y2="154.80" stroke="#6a4a2c" stroke-width="1.4" />
<circle cx="219.25" cy="154.80" r="1.0" fill="#2a2018"/>
<text x="230.50" y="157.14" font-size="6.5" font-weight="normal" fill="#1a1a1a" letter-spacing="-0.1">100 g L<tspan font-size="3.6" dy="-2.4" style="stroke:none">-1</tspan></text>
<line x1="214.50" y1="162.90" x2="224.00" y2="162.90" stroke="#3a2a1e" stroke-width="1.4" />
<circle cx="219.25" cy="162.90" r="1.0" fill="#2a2018"/>
<text x="230.50" y="165.24" font-size="6.5" font-weight="normal" fill="#1a1a1a" letter-spacing="-0.1">150 g L<tspan font-size="3.6" dy="-2.4" style="stroke:none">-1</tspan></text>
<line x1="214.50" y1="170.50" x2="224.00" y2="170.50" stroke="#101010" stroke-width="1.4" />
<circle cx="219.25" cy="170.50" r="1.0" fill="#2a2018"/>
<text x="230.50" y="172.84" font-size="6.5" font-weight="normal" fill="#1a1a1a" letter-spacing="-0.1">200 g L<tspan font-size="3.6" dy="-2.4" style="stroke:none">-1</tspan></text>
<text x="4.50" y="276.60" font-size="7.5" text-anchor="middle" font-weight="bold" fill="#1a1a1a" >D</text>
<rect x="25.50" y="285.50" width="136.00" height="90.00" fill="none" stroke="#1c1c1c" stroke-width="1.0"/>
<line x1="22.70" y1="375.50" x2="25.50" y2="375.50" stroke="#1c1c1c" stroke-width="1.0" />
<text x="22.10" y="377.84" font-size="6.5" text-anchor="end" font-weight="bold" fill="#1a1a1a" >6</text>
<line x1="22.70" y1="353.00" x2="25.50" y2="353.00" stroke="#1c1c1c" stroke-width="1.0" />
<text x="22.10" y="355.34" font-size="6.5" text-anchor="end" font-weight="bold" fill="#1a1a1a" >7</text>
<line x1="22.70" y1="330.50" x2="25.50" y2="330.50" stroke="#1c1c1c" stroke-width="1.0" />
<text x="22.10" y="332.84" font-size="6.5" text-anchor="end" font-weight="bold" fill="#1a1a1a" >8</text>
<line x1="22.70" y1="308.00" x2="25.50" y2="308.00" stroke="#1c1c1c" stroke-width="1.0" />
<text x="22.10" y="310.34" font-size="6.5" text-anchor="end" font-weight="bold" fill="#1a1a1a" >9</text>
<line x1="22.70" y1="285.50" x2="25.50" y2="285.50" stroke="#1c1c1c" stroke-width="1.0" />
<text x="22.10" y="287.84" font-size="6.5" text-anchor="end" font-weight="bold" fill="#1a1a1a" >10</text>
<line x1="35.60" y1="375.50" x2="35.60" y2="378.30" stroke="#1c1c1c" stroke-width="1.0" />
<text x="35.60" y="385.38" font-size="6.5" text-anchor="middle" font-weight="bold" fill="#1a1a1a" >20</text>
<line x1="58.64" y1="375.50" x2="58.64" y2="378.30" stroke="#1c1c1c" stroke-width="1.0" />
<text x="58.64" y="385.38" font-size="6.5" text-anchor="middle" font-weight="bold" fill="#1a1a1a" >50</text>
<line x1="81.68" y1="375.50" x2="81.68" y2="378.30" stroke="#1c1c1c" stroke-width="1.0" />
<text x="81.68" y="385.38" font-size="6.5" text-anchor="middle" font-weight="bold" fill="#1a1a1a" >80</text>
<line x1="104.72" y1="375.50" x2="104.72" y2="378.30" stroke="#1c1c1c" stroke-width="1.0" />
<text x="104.72" y="385.38" font-size="6.5" text-anchor="middle" font-weight="bold" fill="#1a1a1a" >100</text>
<line x1="127.76" y1="375.50" x2="127.76" y2="378.30" stroke="#1c1c1c" stroke-width="1.0" />
<text x="127.76" y="385.38" font-size="6.5" text-anchor="middle" font-weight="bold" fill="#1a1a1a" >150</text>
<line x1="150.80" y1="375.50" x2="150.80" y2="378.30" stroke="#1c1c1c" stroke-width="1.0" />
<text x="150.80" y="385.38" font-size="6.5" text-anchor="middle" font-weight="bold" fill="#1a1a1a" >200</text>
<text x="93.20" y="396.50" font-size="7.2" text-anchor="middle" font-weight="bold" fill="#1a1a1a" >Crude glycerol concentration (g L<tspan font-size="4.3" dy="-2.5" style="stroke-width:0.12px">-1</tspan><tspan dy="2.5">)</tspan></text>
<text transform="translate(8.1,332) rotate(-90)" font-size="7.3" font-weight="bold" text-anchor="middle" fill="#1a1a1a">Cell dnsity (Log<tspan font-size="4.3" dy="1.3" style="stroke-width:0.15px">10</tspan><tspan dy="-1.3">, cfu mL</tspan><tspan font-size="4.3" dy="-2.2" style="stroke-width:0.15px">-1</tspan><tspan dy="2.2">)</tspan></text>
<line x1="31.35" y1="296.52" x2="31.35" y2="298.32" stroke="#222" stroke-width="0.8" />
<line x1="30.05" y1="296.52" x2="32.65" y2="296.52" stroke="#222" stroke-width="0.8" />
<line x1="30.05" y1="298.32" x2="32.65" y2="298.32" stroke="#222" stroke-width="0.8" />
<rect x="28.80" y="298.32" width="5.1" height="77.18" fill="#9c7038" stroke="#1a1a1a" stroke-width="0.85"/>
<line x1="39.85" y1="303.50" x2="39.85" y2="308.45" stroke="#222" stroke-width="0.8" />
<line x1="38.55" y1="303.50" x2="41.15" y2="303.50" stroke="#222" stroke-width="0.8" />
<line x1="38.55" y1="308.45" x2="41.15" y2="308.45" stroke="#222" stroke-width="0.8" />
<rect x="37.30" y="308.45" width="5.1" height="67.05" fill="#9ea1aa" stroke="#1a1a1a" stroke-width="0.85"/>
<line x1="54.39" y1="298.10" x2="54.39" y2="299.45" stroke="#222" stroke-width="0.8" />
<line x1="53.09" y1="298.10" x2="55.69" y2="298.10" stroke="#222" stroke-width="0.8" />
<line x1="53.09" y1="299.45" x2="55.69" y2="299.45" stroke="#222" stroke-width="0.8" />
<rect x="51.84" y="299.45" width="5.1" height="76.05" fill="#9c7038" stroke="#1a1a1a" stroke-width="0.85"/>
<line x1="62.89" y1="308.23" x2="62.89" y2="310.02" stroke="#222" stroke-width="0.8" />
<line x1="61.59" y1="308.23" x2="64.19" y2="308.23" stroke="#222" stroke-width="0.8" />
<line x1="61.59" y1="310.02" x2="64.19" y2="310.02" stroke="#222" stroke-width="0.8" />
<rect x="60.34" y="310.02" width="5.1" height="65.48" fill="#9ea1aa" stroke="#1a1a1a" stroke-width="0.85"/>
<line x1="77.43" y1="298.10" x2="77.43" y2="299.45" stroke="#222" stroke-width="0.8" />
<line x1="76.13" y1="298.10" x2="78.73" y2="298.10" stroke="#222" stroke-width="0.8" />
<line x1="76.13" y1="299.45" x2="78.73" y2="299.45" stroke="#222" stroke-width="0.8" />
<rect x="74.88" y="299.45" width="5.1" height="76.05" fill="#9c7038" stroke="#1a1a1a" stroke-width="0.85"/>
<line x1="85.93" y1="308.00" x2="85.93" y2="312.95" stroke="#222" stroke-width="0.8" />
<line x1="84.63" y1="308.00" x2="87.23" y2="308.00" stroke="#222" stroke-width="0.8" />
<line x1="84.63" y1="312.95" x2="87.23" y2="312.95" stroke="#222" stroke-width="0.8" />
<rect x="83.38" y="312.95" width="5.1" height="62.55" fill="#9ea1aa" stroke="#1a1a1a" stroke-width="0.85"/>
<line x1="100.47" y1="292.70" x2="100.47" y2="294.95" stroke="#222" stroke-width="0.8" />
<line x1="99.17" y1="292.70" x2="101.77" y2="292.70" stroke="#222" stroke-width="0.8" />
<line x1="99.17" y1="294.95" x2="101.77" y2="294.95" stroke="#222" stroke-width="0.8" />
<rect x="97.92" y="294.95" width="5.1" height="80.55" fill="#9c7038" stroke="#1a1a1a" stroke-width="0.85"/>
<line x1="108.97" y1="310.70" x2="108.97" y2="317.00" stroke="#222" stroke-width="0.8" />
<line x1="107.67" y1="310.70" x2="110.27" y2="310.70" stroke="#222" stroke-width="0.8" />
<line x1="107.67" y1="317.00" x2="110.27" y2="317.00" stroke="#222" stroke-width="0.8" />
<rect x="106.42" y="317.00" width="5.1" height="58.50" fill="#9ea1aa" stroke="#1a1a1a" stroke-width="0.85"/>
<line x1="123.51" y1="297.65" x2="123.51" y2="299.90" stroke="#222" stroke-width="0.8" />
<line x1="122.21" y1="297.65" x2="124.81" y2="297.65" stroke="#222" stroke-width="0.8" />
<line x1="122.21" y1="299.90" x2="124.81" y2="299.90" stroke="#222" stroke-width="0.8" />
<rect x="120.96" y="299.90" width="5.1" height="75.60" fill="#9c7038" stroke="#1a1a1a" stroke-width="0.85"/>
<line x1="132.01" y1="308.90" x2="132.01" y2="315.20" stroke="#222" stroke-width="0.8" />
<line x1="130.71" y1="308.90" x2="133.31" y2="308.90" stroke="#222" stroke-width="0.8" />
<line x1="130.71" y1="315.20" x2="133.31" y2="315.20" stroke="#222" stroke-width="0.8" />
<rect x="129.46" y="315.20" width="5.1" height="60.30" fill="#9ea1aa" stroke="#1a1a1a" stroke-width="0.85"/>
<line x1="146.55" y1="300.80" x2="146.55" y2="303.50" stroke="#222" stroke-width="0.8" />
<line x1="145.25" y1="300.80" x2="147.85" y2="300.80" stroke="#222" stroke-width="0.8" />
<line x1="145.25" y1="303.50" x2="147.85" y2="303.50" stroke="#222" stroke-width="0.8" />
<rect x="144.00" y="303.50" width="5.1" height="72.00" fill="#9c7038" stroke="#1a1a1a" stroke-width="0.85"/>
<line x1="155.05" y1="316.10" x2="155.05" y2="319.25" stroke="#222" stroke-width="0.8" />
<line x1="153.75" y1="316.10" x2="156.35" y2="316.10" stroke="#222" stroke-width="0.8" />
<line x1="153.75" y1="319.25" x2="156.35" y2="319.25" stroke="#222" stroke-width="0.8" />
<rect x="152.50" y="319.25" width="5.1" height="56.25" fill="#9ea1aa" stroke="#1a1a1a" stroke-width="0.85"/>
<rect x="107.7" y="288.8" width="3.4" height="3.4" fill="#9c7038" stroke="#1a1a1a" stroke-width="1.0"/>
<text x="113.80" y="292.70" font-size="6.2" text-anchor="start" font-weight="normal" fill="#1a1a1a" >Before</text>
<rect x="136.1" y="288.8" width="3.4" height="3.4" fill="#9ea1aa" stroke="#1a1a1a" stroke-width="1.0"/>
<text x="142.50" y="292.70" font-size="6.2" text-anchor="start" font-weight="normal" fill="#1a1a1a" >After</text>
<text x="187.50" y="276.60" font-size="7.5" text-anchor="middle" font-weight="bold" fill="#1a1a1a" >E</text>
<rect x="213.50" y="285.50" width="136.00" height="90.00" fill="none" stroke="#1c1c1c" stroke-width="1.0"/>
<line x1="210.70" y1="375.50" x2="213.50" y2="375.50" stroke="#1c1c1c" stroke-width="1.0" />
<text x="210.20" y="377.84" font-size="6.5" text-anchor="end" font-weight="bold" fill="#1a1a1a" >0</text>
<line x1="210.70" y1="335.50" x2="213.50" y2="335.50" stroke="#1c1c1c" stroke-width="1.0" />
<text x="210.20" y="337.84" font-size="6.5" text-anchor="end" font-weight="bold" fill="#1a1a1a" >500</text>
<line x1="210.70" y1="295.50" x2="213.50" y2="295.50" stroke="#1c1c1c" stroke-width="1.0" />
<text x="210.20" y="297.84" font-size="6.5" text-anchor="end" font-weight="bold" fill="#1a1a1a" >1000</text>
<line x1="211.70" y1="355.50" x2="213.50" y2="355.50" stroke="#1c1c1c" stroke-width="1.0" />
<line x1="211.70" y1="315.50" x2="213.50" y2="315.50" stroke="#1c1c1c" stroke-width="1.0" />
<line x1="236.17" y1="375.50" x2="236.17" y2="378.30" stroke="#1c1c1c" stroke-width="1.0" />
<text x="236.17" y="385.68" font-size="6.5" text-anchor="middle" font-weight="bold" fill="#1a1a1a" >1</text>
<line x1="281.50" y1="375.50" x2="281.50" y2="378.30" stroke="#1c1c1c" stroke-width="1.0" />
<text x="281.50" y="385.68" font-size="6.5" text-anchor="middle" font-weight="bold" fill="#1a1a1a" >2</text>
<line x1="326.83" y1="375.50" x2="326.83" y2="378.30" stroke="#1c1c1c" stroke-width="1.0" />
<text x="326.83" y="385.68" font-size="6.5" text-anchor="middle" font-weight="bold" fill="#1a1a1a" >3</text>
<text x="281.00" y="395.50" font-size="7.2" text-anchor="middle" font-weight="bold" fill="#1a1a1a" >Time (h)</text>
<text transform="translate(191.6,330.8) rotate(-90)" font-size="7.42" font-weight="bold" text-anchor="middle" fill="#1a1a1a">H<tspan font-size="4.5" dy="1.5">2</tspan><tspan dy="-1.5"> production (μmol)</tspan></text>
<line x1="218.92" y1="362.14" x2="218.92" y2="364.54" stroke="#222" stroke-width="0.8" />
<line x1="217.72" y1="362.14" x2="220.12" y2="362.14" stroke="#222" stroke-width="0.8" />
<line x1="217.72" y1="364.54" x2="220.12" y2="364.54" stroke="#222" stroke-width="0.8" />
<rect x="216.87" y="364.54" width="4.1" height="10.96" fill="#dc8e4c" stroke="#1a1a1a" stroke-width="0.8"/>
<line x1="225.82" y1="351.34" x2="225.82" y2="356.30" stroke="#222" stroke-width="0.8" />
<line x1="224.62" y1="351.34" x2="227.02" y2="351.34" stroke="#222" stroke-width="0.8" />
<line x1="224.62" y1="356.30" x2="227.02" y2="356.30" stroke="#222" stroke-width="0.8" />
<rect x="223.77" y="356.30" width="4.1" height="19.20" fill="#c47e3e" stroke="#1a1a1a" stroke-width="0.8"/>
<line x1="232.72" y1="357.02" x2="232.72" y2="359.26" stroke="#222" stroke-width="0.8" />
<line x1="231.52" y1="357.02" x2="233.92" y2="357.02" stroke="#222" stroke-width="0.8" />
<line x1="231.52" y1="359.26" x2="233.92" y2="359.26" stroke="#222" stroke-width="0.8" />
<rect x="230.67" y="359.26" width="4.1" height="16.24" fill="#9e6832" stroke="#1a1a1a" stroke-width="0.8"/>
<line x1="239.62" y1="363.10" x2="239.62" y2="366.30" stroke="#222" stroke-width="0.8" />
<line x1="238.42" y1="363.10" x2="240.82" y2="363.10" stroke="#222" stroke-width="0.8" />
<line x1="238.42" y1="366.30" x2="240.82" y2="366.30" stroke="#222" stroke-width="0.8" />
<rect x="237.57" y="366.30" width="4.1" height="9.20" fill="#684426" stroke="#1a1a1a" stroke-width="0.8"/>
<line x1="246.52" y1="371.34" x2="246.52" y2="373.74" stroke="#222" stroke-width="0.8" />
<line x1="245.32" y1="371.34" x2="247.72" y2="371.34" stroke="#222" stroke-width="0.8" />
<line x1="245.32" y1="373.74" x2="247.72" y2="373.74" stroke="#222" stroke-width="0.8" />
<rect x="244.47" y="373.74" width="4.1" height="1.76" fill="#36281a" stroke="#1a1a1a" stroke-width="0.8"/>
<line x1="253.42" y1="372.70" x2="253.42" y2="375.10" stroke="#222" stroke-width="0.8" />
<line x1="252.22" y1="372.70" x2="254.62" y2="372.70" stroke="#222" stroke-width="0.8" />
<line x1="252.22" y1="375.10" x2="254.62" y2="375.10" stroke="#222" stroke-width="0.8" />
<rect x="251.37" y="375.10" width="4.1" height="0.40" fill="#1e1a16" stroke="#1a1a1a" stroke-width="0.8"/>
<line x1="264.25" y1="336.94" x2="264.25" y2="339.98" stroke="#222" stroke-width="0.8" />
<line x1="263.05" y1="336.94" x2="265.45" y2="336.94" stroke="#222" stroke-width="0.8" />
<line x1="263.05" y1="339.98" x2="265.45" y2="339.98" stroke="#222" stroke-width="0.8" />
<rect x="262.20" y="339.98" width="4.1" height="35.52" fill="#dc8e4c" stroke="#1a1a1a" stroke-width="0.8"/>
<line x1="271.15" y1="322.78" x2="271.15" y2="326.38" stroke="#222" stroke-width="0.8" />
<line x1="269.95" y1="322.78" x2="272.35" y2="322.78" stroke="#222" stroke-width="0.8" />
<line x1="269.95" y1="326.38" x2="272.35" y2="326.38" stroke="#222" stroke-width="0.8" />
<rect x="269.10" y="326.38" width="4.1" height="49.12" fill="#c47e3e" stroke="#1a1a1a" stroke-width="0.8"/>
<line x1="278.05" y1="322.78" x2="278.05" y2="334.78" stroke="#222" stroke-width="0.8" />
<line x1="276.85" y1="322.78" x2="279.25" y2="322.78" stroke="#222" stroke-width="0.8" />
<line x1="276.85" y1="334.78" x2="279.25" y2="334.78" stroke="#222" stroke-width="0.8" />
<rect x="276.00" y="334.78" width="4.1" height="40.72" fill="#9e6832" stroke="#1a1a1a" stroke-width="0.8"/>
<line x1="284.95" y1="349.50" x2="284.95" y2="351.90" stroke="#222" stroke-width="0.8" />
<line x1="283.75" y1="349.50" x2="286.15" y2="349.50" stroke="#222" stroke-width="0.8" />
<line x1="283.75" y1="351.90" x2="286.15" y2="351.90" stroke="#222" stroke-width="0.8" />
<rect x="282.90" y="351.90" width="4.1" height="23.60" fill="#684426" stroke="#1a1a1a" stroke-width="0.8"/>
<line x1="291.85" y1="364.22" x2="291.85" y2="367.82" stroke="#222" stroke-width="0.8" />
<line x1="290.65" y1="364.22" x2="293.05" y2="364.22" stroke="#222" stroke-width="0.8" />
<line x1="290.65" y1="367.82" x2="293.05" y2="367.82" stroke="#222" stroke-width="0.8" />
<rect x="289.80" y="367.82" width="4.1" height="7.68" fill="#36281a" stroke="#1a1a1a" stroke-width="0.8"/>
<line x1="298.75" y1="361.42" x2="298.75" y2="367.82" stroke="#222" stroke-width="0.8" />
<line x1="297.55" y1="361.42" x2="299.95" y2="361.42" stroke="#222" stroke-width="0.8" />
<line x1="297.55" y1="367.82" x2="299.95" y2="367.82" stroke="#222" stroke-width="0.8" />
<rect x="296.70" y="367.82" width="4.1" height="7.68" fill="#1e1a16" stroke="#1a1a1a" stroke-width="0.8"/>
<line x1="309.58" y1="308.86" x2="309.58" y2="313.02" stroke="#222" stroke-width="0.8" />
<line x1="308.38" y1="308.86" x2="310.78" y2="308.86" stroke="#222" stroke-width="0.8" />
<line x1="308.38" y1="313.02" x2="310.78" y2="313.02" stroke="#222" stroke-width="0.8" />
<rect x="307.53" y="313.02" width="4.1" height="62.48" fill="#dc8e4c" stroke="#1a1a1a" stroke-width="0.8"/>
<line x1="316.48" y1="289.66" x2="316.48" y2="293.82" stroke="#222" stroke-width="0.8" />
<line x1="315.28" y1="289.66" x2="317.68" y2="289.66" stroke="#222" stroke-width="0.8" />
<line x1="315.28" y1="293.82" x2="317.68" y2="293.82" stroke="#222" stroke-width="0.8" />
<rect x="314.43" y="293.82" width="4.1" height="81.68" fill="#c47e3e" stroke="#1a1a1a" stroke-width="0.8"/>
<line x1="323.38" y1="307.42" x2="323.38" y2="315.42" stroke="#222" stroke-width="0.8" />
<line x1="322.18" y1="307.42" x2="324.58" y2="307.42" stroke="#222" stroke-width="0.8" />
<line x1="322.18" y1="315.42" x2="324.58" y2="315.42" stroke="#222" stroke-width="0.8" />
<rect x="321.33" y="315.42" width="4.1" height="60.08" fill="#9e6832" stroke="#1a1a1a" stroke-width="0.8"/>
<line x1="330.28" y1="327.98" x2="330.28" y2="334.78" stroke="#222" stroke-width="0.8" />
<line x1="329.08" y1="327.98" x2="331.48" y2="327.98" stroke="#222" stroke-width="0.8" />
<line x1="329.08" y1="334.78" x2="331.48" y2="334.78" stroke="#222" stroke-width="0.8" />
<rect x="328.23" y="334.78" width="4.1" height="40.72" fill="#684426" stroke="#1a1a1a" stroke-width="0.8"/>
<line x1="337.18" y1="352.78" x2="337.18" y2="362.38" stroke="#222" stroke-width="0.8" />
<line x1="335.98" y1="352.78" x2="338.38" y2="352.78" stroke="#222" stroke-width="0.8" />
<line x1="335.98" y1="362.38" x2="338.38" y2="362.38" stroke="#222" stroke-width="0.8" />
<rect x="335.13" y="362.38" width="4.1" height="13.12" fill="#36281a" stroke="#1a1a1a" stroke-width="0.8"/>
<line x1="344.08" y1="351.42" x2="344.08" y2="359.42" stroke="#222" stroke-width="0.8" />
<line x1="342.88" y1="351.42" x2="345.28" y2="351.42" stroke="#222" stroke-width="0.8" />
<line x1="342.88" y1="359.42" x2="345.28" y2="359.42" stroke="#222" stroke-width="0.8" />
<rect x="342.03" y="359.42" width="4.1" height="16.08" fill="#1e1a16" stroke="#1a1a1a" stroke-width="0.8"/>
<rect x="219.30" y="290.40" width="3.2" height="3.2" fill="#dc8e4c" stroke="#222" stroke-width="1.2"/>
<text x="225.00" y="294.23" font-size="6.2" font-weight="normal" fill="#1a1a1a">20 g L<tspan font-size="3.6" dy="-2.4" style="stroke:none">-1</tspan></text>
<rect x="219.30" y="299.20" width="3.2" height="3.2" fill="#c47e3e" stroke="#222" stroke-width="1.2"/>
<text x="225.00" y="303.03" font-size="6.2" font-weight="normal" fill="#1a1a1a">50 g L<tspan font-size="3.6" dy="-2.4" style="stroke:none">-1</tspan></text>
<rect x="219.30" y="308.90" width="3.2" height="3.2" fill="#9e6832" stroke="#222" stroke-width="1.2"/>
<text x="225.00" y="312.73" font-size="6.2" font-weight="normal" fill="#1a1a1a">80 g L<tspan font-size="3.6" dy="-2.4" style="stroke:none">-1</tspan></text>
<rect x="253.60" y="290.40" width="3.2" height="3.2" fill="#684426" stroke="#222" stroke-width="1.2"/>
<text x="259.50" y="294.23" font-size="6.2" font-weight="normal" fill="#1a1a1a">100 g L<tspan font-size="3.6" dy="-2.4" style="stroke:none">-1</tspan></text>
<rect x="253.60" y="299.20" width="3.2" height="3.2" fill="#36281a" stroke="#222" stroke-width="1.2"/>
<text x="259.50" y="303.03" font-size="6.2" font-weight="normal" fill="#1a1a1a">150 g L<tspan font-size="3.6" dy="-2.4" style="stroke:none">-1</tspan></text>
<rect x="253.60" y="308.90" width="3.2" height="3.2" fill="#1e1a16" stroke="#222" stroke-width="1.2"/>
<text x="259.50" y="312.73" font-size="6.2" font-weight="normal" fill="#1a1a1a">200 g L<tspan font-size="3.6" dy="-2.4" style="stroke:none">-1</tspan></text>
</svg></body></html>
